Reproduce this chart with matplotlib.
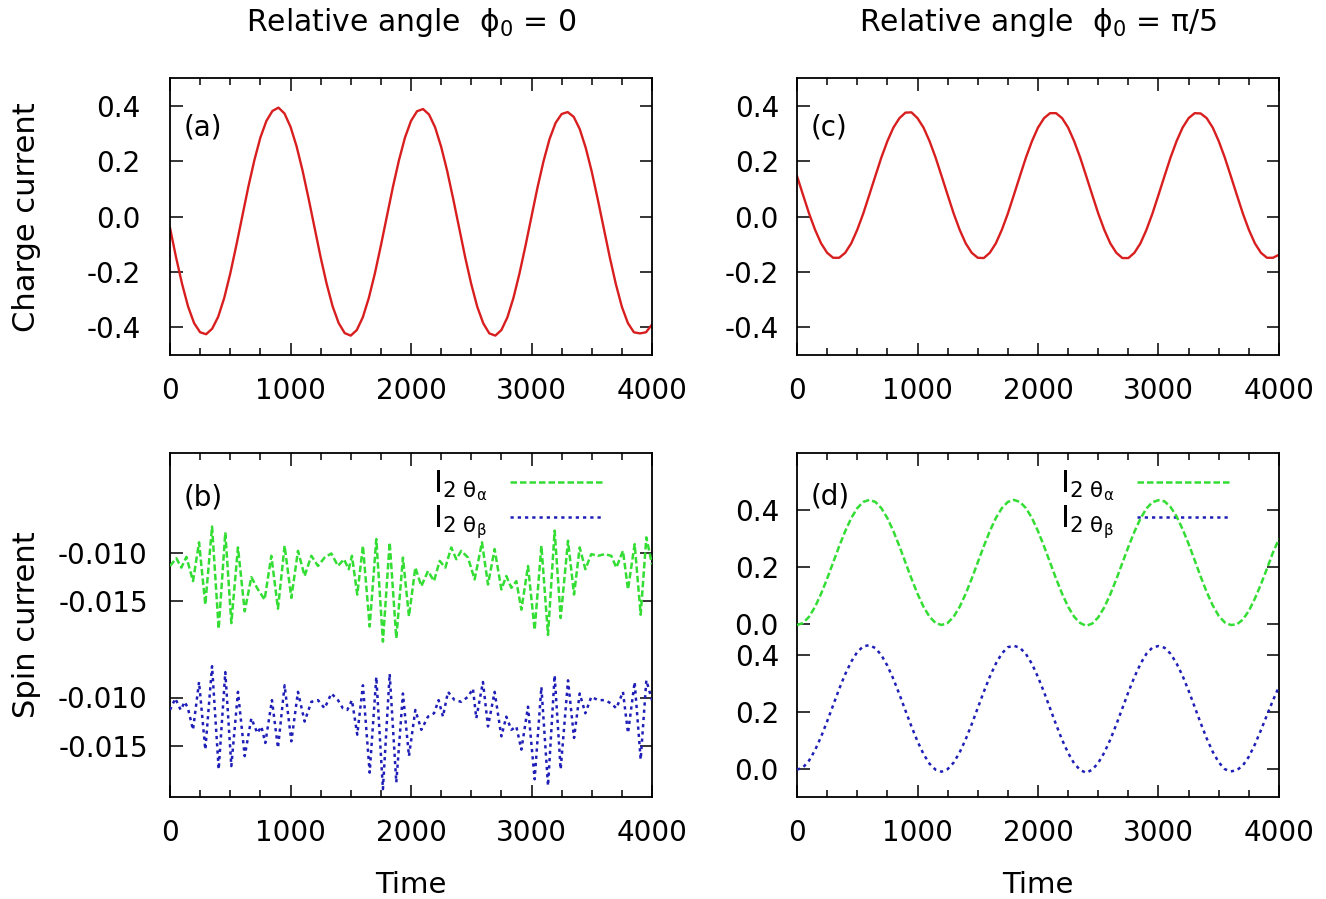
import numpy as np
import matplotlib
matplotlib.use("Agg")
import matplotlib.pyplot as plt
from matplotlib.ticker import MultipleLocator, FormatStrFormatter

plt.rcParams['font.family'] = ['DejaVu Sans']
plt.rcParams['mathtext.default'] = 'regular'
plt.rcParams['axes.unicode_minus'] = False

# ---------------- data ----------------
t_smooth = np.arange(0, 4001, 50)

charge_phi0 = [
    -0.041, -0.147, -0.243, -0.325, -0.385, -0.418, -0.425, -0.405, -0.362, -0.294, -0.206, -0.105,
    0.001, 0.107, 0.203, 0.285, 0.345, 0.381, 0.393, 0.372, 0.324, 0.254, 0.166, 0.065,
    -0.041, -0.147, -0.243, -0.325, -0.385, -0.421, -0.430, -0.410, -0.364, -0.294, -0.206, -0.105,
    0.001, 0.107, 0.203, 0.285, 0.345, 0.380, 0.388, 0.368, 0.322, 0.252, 0.165, 0.064,
    -0.042, -0.148, -0.244, -0.326, -0.386, -0.422, -0.430, -0.410, -0.364, -0.294, -0.206, -0.106,
    0.000, 0.105, 0.200, 0.280, 0.338, 0.370, 0.377, 0.360, 0.316, 0.248, 0.162, 0.062,
    -0.043, -0.148, -0.244, -0.326, -0.385, -0.418, -0.422, -0.418, -0.390]

charge_phipi5 = [
    0.146, 0.078, 0.011, -0.048, -0.097, -0.131, -0.149, -0.149, -0.131, -0.097, -0.048, 0.011,
    0.078, 0.146, 0.213, 0.272, 0.321, 0.355, 0.375, 0.376, 0.355, 0.321, 0.272, 0.213,
    0.146, 0.078, 0.011, -0.048, -0.097, -0.131, -0.149, -0.150, -0.131, -0.097, -0.048, 0.011,
    0.078, 0.146, 0.213, 0.272, 0.321, 0.355, 0.373, 0.373, 0.355, 0.321, 0.272, 0.213,
    0.146, 0.078, 0.011, -0.048, -0.097, -0.131, -0.150, -0.150, -0.131, -0.097, -0.048, 0.011,
    0.078, 0.146, 0.213, 0.272, 0.321, 0.355, 0.373, 0.372, 0.355, 0.321, 0.272, 0.213,
    0.146, 0.078, 0.011, -0.048, -0.097, -0.131, -0.149, -0.149, -0.138]

spin_alpha_pi5 = [
    -0.005, 0.002, 0.024, 0.059, 0.105, 0.158, 0.215, 0.272, 0.325, 0.371, 0.406, 0.428,
    0.435, 0.428, 0.406, 0.371, 0.325, 0.272, 0.215, 0.158, 0.105, 0.059, 0.024, 0.002,
    -0.005, 0.002, 0.024, 0.059, 0.105, 0.158, 0.215, 0.272, 0.325, 0.371, 0.406, 0.428,
    0.435, 0.428, 0.406, 0.371, 0.325, 0.272, 0.215, 0.158, 0.105, 0.059, 0.024, 0.002,
    -0.008, 0.000, 0.022, 0.057, 0.103, 0.156, 0.213, 0.270, 0.323, 0.369, 0.405, 0.427,
    0.434, 0.430, 0.410, 0.377, 0.332, 0.280, 0.223, 0.165, 0.111, 0.064, 0.027, 0.004,
    -0.005, -0.003, 0.014, 0.045, 0.088, 0.138, 0.193, 0.250, 0.298]

spin_beta_pi5 = [
    -0.004, 0.004, 0.028, 0.065, 0.112, 0.166, 0.223, 0.280, 0.332, 0.376, 0.410, 0.430,
    0.434, 0.424, 0.399, 0.362, 0.315, 0.261, 0.204, 0.148, 0.096, 0.051, 0.017, -0.004,
    -0.011, -0.002, 0.021, 0.057, 0.103, 0.156, 0.213, 0.270, 0.323, 0.369, 0.405, 0.427,
    0.432, 0.425, 0.403, 0.368, 0.322, 0.269, 0.212, 0.155, 0.101, 0.055, 0.018, -0.005,
    -0.015, -0.004, 0.020, 0.056, 0.102, 0.155, 0.212, 0.269, 0.322, 0.368, 0.404, 0.426,
    0.431, 0.425, 0.404, 0.370, 0.326, 0.274, 0.217, 0.160, 0.106, 0.059, 0.022, -0.002,
    -0.010, -0.006, 0.011, 0.042, 0.085, 0.135, 0.188, 0.240, 0.288]

t_alpha_0 = [0, 53, 94, 136, 191, 241, 293, 349, 404, 459, 509, 564, 620, 675, 725, 785, 841, 896,
             951, 1007, 1062, 1117, 1173, 1228, 1283, 1339, 1394, 1444, 1483, 1510, 1554, 1601,
             1657, 1712, 1767, 1823, 1878, 1933, 1983, 2036, 2086, 2141, 2191, 2238, 2285, 2334,
             2376, 2417, 2473, 2528, 2589, 2639, 2694, 2750, 2791, 2833, 2874, 2916, 2971, 3026,
             3082, 3137, 3192, 3242, 3303, 3353, 3400, 3447, 3496, 3552, 3607, 3662, 3704, 3759,
             3801, 3856, 3906, 3953, 4000]
spin_alpha_0 = [-0.01138, -0.01059, -0.01155, -0.01045, -0.01293, -0.00896, -0.01534, -0.00734,
                -0.01783, -0.00793, -0.01724, -0.00948, -0.01603, -0.01252, -0.01369, -0.01483,
                -0.01034, -0.01576, -0.00931, -0.01465, -0.00983, -0.01241, -0.01034, -0.01138,
                -0.01052, -0.01010, -0.01138, -0.01069, -0.01172, -0.01034, -0.01431, -0.00931,
                -0.01759, -0.00862, -0.01914, -0.00896, -0.01879, -0.01052, -0.01655, -0.01155,
                -0.01345, -0.01190, -0.01293, -0.01086, -0.01155, -0.00948, -0.01069, -0.00983,
                -0.01052, -0.01276, -0.00896, -0.01328, -0.00965, -0.01379, -0.01241, -0.01362,
                -0.01293, -0.01586, -0.01138, -0.01793, -0.00931, -0.01845, -0.00776, -0.01672,
                -0.00879, -0.01431, -0.00948, -0.01172, -0.01017, -0.01034, -0.01017, -0.01034,
                -0.01155, -0.00983, -0.01379, -0.00914, -0.01638, -0.00845, -0.01121]

t_beta_0 = [0, 44, 89, 122, 149, 191, 241, 293, 349, 404, 459, 509, 564, 620, 675, 725, 758, 791,
            846, 896, 951, 1007, 1062, 1117, 1173, 1228, 1283, 1339, 1394, 1435, 1471, 1510, 1554,
            1601, 1657, 1712, 1767, 1823, 1878, 1933, 1983, 2036, 2086, 2141, 2191, 2229, 2265,
            2307, 2362, 2417, 2473, 2514, 2542, 2597, 2639, 2694, 2750, 2791, 2833, 2874, 2916,
            2971, 3026, 3082, 3137, 3192, 3242, 3303, 3353, 3400, 3447, 3496, 3552, 3607, 3662,
            3704, 3759, 3801, 3856, 3906, 3953, 4000]
spin_beta_0 = [-0.01128, -0.01010, -0.01128, -0.01044, -0.01111, -0.01331, -0.00841, -0.01534,
               -0.00679, -0.01736, -0.00740, -0.01703, -0.00942, -0.01601, -0.01213, -0.01365,
               -0.01297, -0.01466, -0.01027, -0.01517, -0.00875, -0.01449, -0.00942, -0.01246,
               -0.01044, -0.01027, -0.01111, -0.00959, -0.01027, -0.01111, -0.01128, -0.01027,
               -0.01381, -0.00875, -0.01770, -0.00790, -0.01939, -0.00757, -0.01871, -0.00959,
               -0.01601, -0.01128, -0.01331, -0.01196, -0.01162, -0.01027, -0.01196, -0.00942,
               -0.01027, -0.01044, -0.00993, -0.00909, -0.01213, -0.00841, -0.01297, -0.00942,
               -0.01398, -0.01196, -0.01331, -0.01297, -0.01534, -0.01094, -0.01838, -0.00892,
               -0.01905, -0.00773, -0.01736, -0.00824, -0.01415, -0.00959, -0.01162, -0.00993,
               -0.01027, -0.01027, -0.01061, -0.01111, -0.00942, -0.01365, -0.00841, -0.01635,
               -0.00824, -0.01027]

panel_labels = ['(a)', '(b)', '(c)', '(d)']
titles = [r'Relative angle  $\phi_0$ = 0', r'Relative angle  $\phi_0$ = π/5']
legend_labels = [r'I$_{2\ \theta_{\alpha}}$', r'I$_{2\ \theta_{\beta}}$']

RED = '#d81e1e'
GREEN = '#33dd33'
BLUE = '#1f1fb8'

# ---------------- layout ----------------
W, H = 1326, 899
fig = plt.figure(figsize=(W / 100, H / 100), dpi=100)


def rect(x0, y0, x1, y1):
    return [x0 / W, 1 - y1 / H, (x1 - x0) / W, (y1 - y0) / H]


TICK_FS = 20
SPINE_LW = 1.3


def style_x(ax):
    ax.set_xlim(0, 4000)
    ax.xaxis.set_major_locator(MultipleLocator(1000))
    ax.xaxis.set_minor_locator(MultipleLocator(250))
    ax.tick_params(axis='x', which='both', direction='in', top=True, bottom=True,
                   labelsize=TICK_FS, pad=16, width=1.1)
    ax.tick_params(axis='x', which='major', length=9)
    ax.tick_params(axis='x', which='minor', length=5)
    for s in ax.spines.values():
        s.set_linewidth(SPINE_LW)


def style_y(ax, pad):
    ax.tick_params(axis='y', which='both', direction='in', left=True, right=True,
                   labelsize=TICK_FS, pad=pad, width=1.1, length=9)


# (a)
ax_a = fig.add_axes(rect(170, 78, 652, 355))
ax_a.plot(t_smooth, charge_phi0, color=RED, lw=1.7)
style_x(ax_a)
ax_a.set_ylim(-0.5, 0.5)
ax_a.set_yticks([-0.4, -0.2, 0.0, 0.2, 0.4])
ax_a.yaxis.set_major_formatter(FormatStrFormatter('%.1f'))
style_y(ax_a, 21)

# (c)
ax_c = fig.add_axes(rect(797, 78, 1279, 355))
ax_c.plot(t_smooth, charge_phipi5, color=RED, lw=1.7)
style_x(ax_c)
ax_c.set_ylim(-0.5, 0.5)
ax_c.set_yticks([-0.4, -0.2, 0.0, 0.2, 0.4])
ax_c.yaxis.set_major_formatter(FormatStrFormatter('%.1f'))
style_y(ax_c, 13)


def make_split(x0, x1, ylim, yticks, fmt, pad, top_series, bot_series):
    frame = fig.add_axes(rect(x0, 453, x1, 797))
    style_x(frame)
    frame.set_yticks([])
    lines = []
    for (ya, yb), (tt, vv, col, dash) in zip([(453, 652), (598, 797)], [top_series, bot_series]):
        s = fig.add_axes(rect(x0, ya, x1, yb))
        s.patch.set_visible(False)
        for sp in s.spines.values():
            sp.set_visible(False)
        s.set_xlim(0, 4000)
        s.set_ylim(*ylim)
        s.set_xticks([])
        s.set_yticks(yticks)
        s.yaxis.set_major_formatter(FormatStrFormatter(fmt))
        style_y(s, pad)
        ln, = s.plot(tt, vv, color=col, lw=1.8, dashes=dash)
        lines.append(ln)
    return frame, lines


ax_b, lines_b = make_split(170, 652, (-0.0202, 0.0002), [-0.015, -0.010], '%.3f', 16,
                           (t_alpha_0, spin_alpha_0, GREEN, (2.6, 1.2)),
                           (t_beta_0, spin_beta_0, BLUE, (1.3, 1.6)))
ax_d, lines_d = make_split(797, 1279, (-0.1, 0.6), [0.0, 0.2, 0.4], '%.1f', 13,
                           (t_smooth, spin_alpha_pi5, GREEN, (2.6, 1.2)),
                           (t_smooth, spin_beta_pi5, BLUE, (1.3, 1.6)))

for ax, lines in [(ax_b, lines_b), (ax_d, lines_d)]:
    ax.legend(lines, legend_labels, loc='upper left', bbox_to_anchor=(0.545, 0.955),
              borderaxespad=0, borderpad=0, frameon=False, markerfirst=False,
              handlelength=3.0, handletextpad=0.75, labelspacing=0.0, fontsize=22)

# panel labels
for ax, lab, yy in [(ax_a, '(a)', 0.823), (ax_c, '(c)', 0.823), (ax_b, '(b)', 0.872), (ax_d, '(d)', 0.875)]:
    ax.text(0.028, yy, lab, transform=ax.transAxes, fontsize=20, ha='left', va='center')

# titles and axis labels
fig.text(411 / W, 1 - 31 / H, titles[0], fontsize=21.5, ha='center', va='baseline')
fig.text(1038 / W, 1 - 31 / H, titles[1], fontsize=21.5, ha='center', va='baseline')
fig.text(27 / W, 1 - 217 / H, 'Charge current', fontsize=22, rotation=90, ha='center', va='center')
fig.text(27 / W, 1 - 625 / H, 'Spin current', fontsize=22, rotation=90, ha='center', va='center')
fig.text(411 / W, 1 - 893 / H, 'Time', fontsize=21, ha='center', va='baseline')
fig.text(1038 / W, 1 - 893 / H, 'Time', fontsize=21, ha='center', va='baseline')

fig.savefig('out.png', dpi=100)
